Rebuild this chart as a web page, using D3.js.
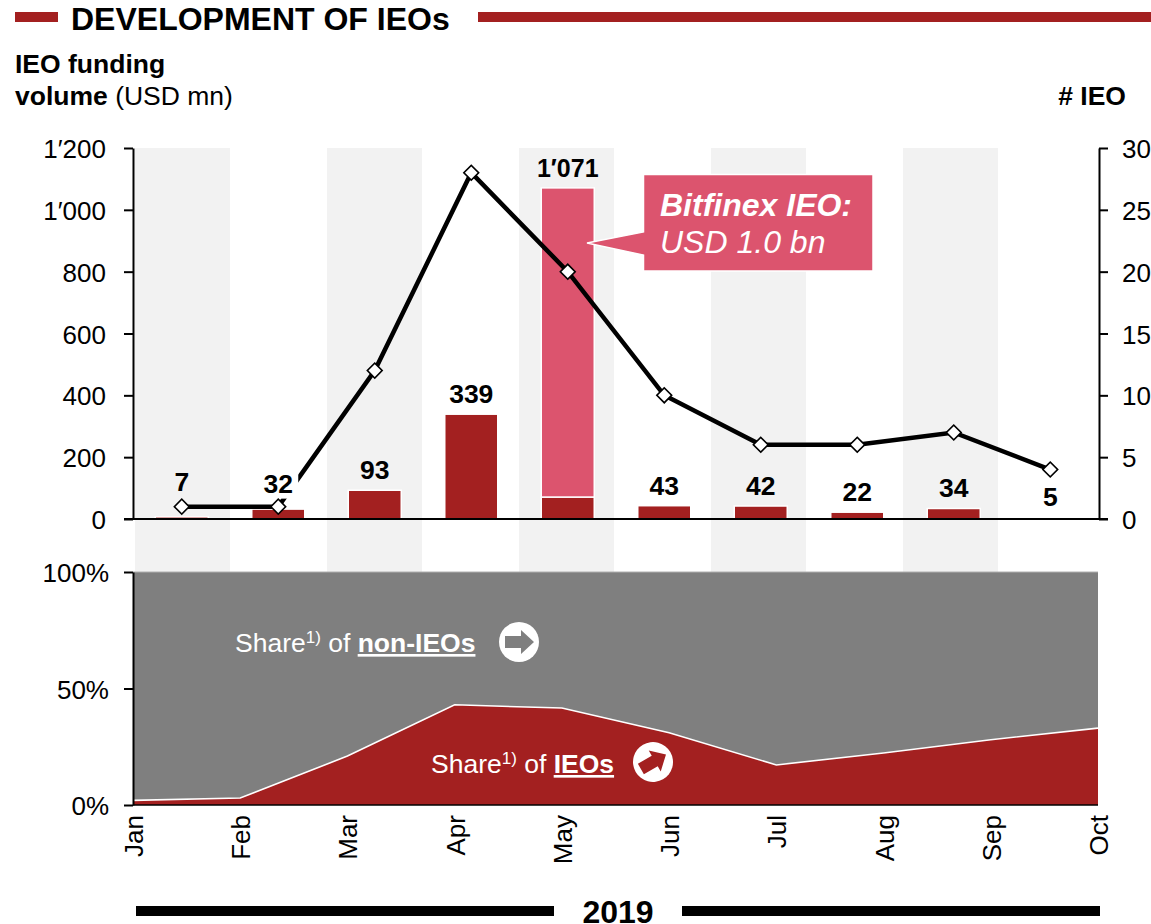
<!DOCTYPE html>
<html><head><meta charset="utf-8">
<script src="https://cdn.jsdelivr.net/npm/d3@7/dist/d3.min.js"></script>
<style>
html,body{margin:0;padding:0;background:#fff}
svg{display:block}
text{font-family:"Liberation Sans",Arial,sans-serif;fill:#000}
</style></head><body>
<svg id="c" width="1151" height="924"></svg>
<script>
const months=["Jan","Feb","Mar","Apr","May","Jun","Jul","Aug","Sep","Oct"];
const otherFunding=[7,32,93,339,71,43,42,22,34,5];
const bitfinexFunding=[0,0,0,0,1000,0,0,0,0,0];
const totalLabels=["7","32","93","339","1′071","43","42","22","34","5"];
const ieoCount=[1,1,12,28,20,10,6,6,7,4];
const ieoShare=[2,3,21,43,41.6,31,17.2,22.3,28,33];
const fundingTicks=[0,200,400,600,800,1000,1200];
const countTicks=[0,5,10,15,20,25,30];
const shareTicks=[0,50,100];
const RED="#a32020",PINK="#dc546e",GREY="#7f7f7f",BAND="#f2f2f2";

const svg=d3.select("#c");
const L=133,R=1098;
const x=d3.scaleBand().domain(months).range([133.5,1098.5]);
const xb=d3.scaleBand().domain(months).range([135,1095]);
const xp=d3.scalePoint().domain(months).range([L,R]);
const yF=d3.scaleLinear().domain([0,1200]).range([519,148]);
const yC=d3.scaleLinear().domain([0,30]).range([519,148]);
const yS=d3.scaleLinear().domain([0,100]).range([805,572]);
const fmt=v=>v>=1000?d3.format("d")(Math.floor(v/1000))+"′"+d3.format("03d")(v%1000):String(v);

// alternating bands
svg.append("g").selectAll("rect").data(months.filter((m,i)=>i%2===0)).join("rect")
  .attr("x",d=>xb(d)).attr("width",95).attr("y",yF(1200)).attr("height",yS(100)-yF(1200)).attr("fill",BAND);

// lower area chart
svg.append("path").datum(months).attr("fill",GREY)
  .attr("d",d3.area().x(d=>xp(d)).y0(yS(0)).y1(yS(100)));
svg.append("line").attr("x1",L).attr("x2",R).attr("y1",yS(100)).attr("y2",yS(100)).attr("stroke","#b0b0b0").attr("stroke-width",1);
const sh=months.map((m,i)=>({m,v:ieoShare[i]}));
svg.append("path").datum(sh).attr("fill",RED)
  .attr("d",d3.area().x(d=>xp(d.m)).y0(yS(0)).y1(d=>yS(d.v)));
svg.append("path").datum(sh).attr("fill","none").attr("stroke","#fff").attr("stroke-width",1.6)
  .attr("d",d3.line().x(d=>xp(d.m)).y(d=>yS(d.v)));

// bars
const bw=53;
const bars=svg.append("g").attr("stroke","#fff").attr("stroke-width",1.5);
bars.selectAll("rect.a").data(months).join("rect").attr("class","a")
  .attr("x",d=>x(d)+x.bandwidth()/2-bw/2).attr("width",bw)
  .attr("y",(d,i)=>yF(otherFunding[i])).attr("height",(d,i)=>yF(0)-yF(otherFunding[i])).attr("fill",RED);
bars.selectAll("rect.b").data(months.filter((m,i)=>bitfinexFunding[i]>0)).join("rect").attr("class","b")
  .attr("x",d=>x(d)+x.bandwidth()/2-bw/2).attr("width",bw)
  .attr("y",d=>{const i=months.indexOf(d);return yF(otherFunding[i]+bitfinexFunding[i]);})
  .attr("height",d=>{const i=months.indexOf(d);return yF(otherFunding[i])-yF(otherFunding[i]+bitfinexFunding[i]);}).attr("fill",PINK);

// callout
svg.append("path").attr("fill",PINK).attr("stroke","#fff").attr("stroke-width",1.5)
  .attr("d",`M643.5 174.5H873V271H643.5V255L587 243L643.5 232Z`);

// line
const lineData=months.map((m,i)=>({m,v:ieoCount[i]}));
const cx=d=>x(d)+x.bandwidth()/2;
svg.append("path").datum(lineData).attr("fill","none").attr("stroke","#000").attr("stroke-width",4.5)
  .attr("d",d3.line().x(d=>cx(d.m)).y(d=>yC(d.v)));

// white patch behind the Feb label
svg.append("rect").attr("x",cx("Feb")-16).attr("y",yC(1)-37).attr("width",36).attr("height",29).attr("fill","#fff");

// axes
function styleAxis(g){g.selectAll("path,line").attr("stroke","#000").attr("stroke-width",2);
  g.selectAll("text").attr("font-size",26).attr("fill","#000").attr("dy","0.37em");}
const ax=svg.append("g");
ax.append("g").attr("transform",`translate(${L},0)`).call(d3.axisLeft(yF).tickValues(fundingTicks).tickFormat(fmt).tickSize(9).tickSizeOuter(0).tickPadding(18)).call(styleAxis);
ax.append("g").attr("transform",`translate(${L},0)`).call(d3.axisLeft(yS).tickValues(shareTicks).tickFormat(d=>d+"%").tickSize(9).tickSizeOuter(0).tickPadding(15)).call(styleAxis);
ax.append("g").attr("transform",`translate(${R+1},0)`).call(d3.axisRight(yC).tickValues(countTicks).tickSize(9).tickSizeOuter(0).tickPadding(14)).call(styleAxis);
ax.append("line").attr("x1",L-9).attr("x2",R+10).attr("y1",yF(0)).attr("y2",yF(0)).attr("stroke","#000").attr("stroke-width",2);
ax.append("line").attr("x1",L).attr("x2",R).attr("y1",yS(0)).attr("y2",yS(0)).attr("stroke","#000").attr("stroke-width",1.5);

// x labels
svg.append("g").selectAll("text").data(months).join("text")
  .attr("transform",d=>`translate(${xp(d)+10},815) rotate(-90)`)
  .attr("text-anchor","end").attr("font-size",26).text(d=>d);

// diamonds
svg.append("g").selectAll("path").data(lineData).join("path")
  .attr("transform",d=>`translate(${cx(d.m)},${yC(d.v)}) rotate(45)`)
  .attr("d",d3.symbol(d3.symbolSquare,110)).attr("fill","#fff").attr("stroke","#000").attr("stroke-width",1.6);

// value labels
const lift={Jan:15,Feb:5};
svg.append("g").selectAll("text").data(months).join("text")
  .attr("x",cx).attr("y",(d,i)=>yF(otherFunding[i]+bitfinexFunding[i])-11-(lift[d]||0))
  .attr("text-anchor","middle").attr("font-size",(d,i)=>bitfinexFunding[i]>0?25:26.5).attr("font-weight","bold")
  .text((d,i)=>totalLabels[i]);

// callout text
const ct=svg.append("g");
ct.append("text").attr("x",660).attr("y",216).attr("font-size",32).attr("font-weight","bold").attr("font-style","italic").style("fill","#fff").text("Bitfinex IEO:");
ct.append("text").attr("x",660).attr("y",253).attr("font-size",32).attr("font-style","italic").style("fill","#fff").text("USD 1.0 bn");

// header
svg.append("rect").attr("x",15).attr("y",12).attr("width",43).attr("height",10).attr("fill",RED);
svg.append("rect").attr("x",478).attr("y",12).attr("width",673).attr("height",10).attr("fill",RED);
svg.append("text").attr("x",71).attr("y",30).attr("font-size",32).attr("font-weight","bold").text("DEVELOPMENT OF IEOs");
svg.append("text").attr("x",15).attr("y",73).attr("font-size",26.5).attr("font-weight","bold").text("IEO funding");
const t2=svg.append("text").attr("x",15).attr("y",105).attr("font-size",26.5);
t2.append("tspan").attr("font-weight","bold").text("volume");
t2.append("tspan").text(" (USD mn)");
svg.append("text").attr("x",1126).attr("y",105).attr("text-anchor","end").attr("font-size",26.5).attr("font-weight","bold").text("# IEO");

// share labels
function share(xp0,y,word){
  const t=svg.append("text").attr("x",xp0).attr("y",y).attr("font-size",26.5).style("fill","#fff");
  t.append("tspan").style("fill","#fff").text("Share");
  t.append("tspan").style("fill","#fff").attr("font-size",17).attr("dy",-9).text("1)");
  t.append("tspan").style("fill","#fff").attr("dy",9).text(" of ");
  t.append("tspan").style("fill","#fff").attr("font-weight","bold").attr("text-decoration","underline").text(word);
}
share(235,652,"non-IEOs");
share(431,773,"IEOs");
function arrow(cxp,cy,rot,col){
  const g=svg.append("g").attr("transform",`translate(${cxp},${cy}) rotate(${rot})`);
  g.append("circle").attr("r",20).attr("fill","#fff");
  g.append("path").attr("fill",col).attr("d","M-14 -6H2V-12L15 0L2 12V6H-14Z");
}
arrow(519,642,0,GREY);
arrow(653,762,-30,RED);

// footer
svg.append("rect").attr("x",136).attr("y",906).attr("width",418).attr("height",10).attr("fill","#000");
svg.append("rect").attr("x",682).attr("y",906).attr("width",418).attr("height",10).attr("fill","#000");
svg.append("text").attr("x",618).attr("y",923).attr("text-anchor","middle").attr("font-size",32).attr("font-weight","bold").text("2019");
</script>
</body></html>
